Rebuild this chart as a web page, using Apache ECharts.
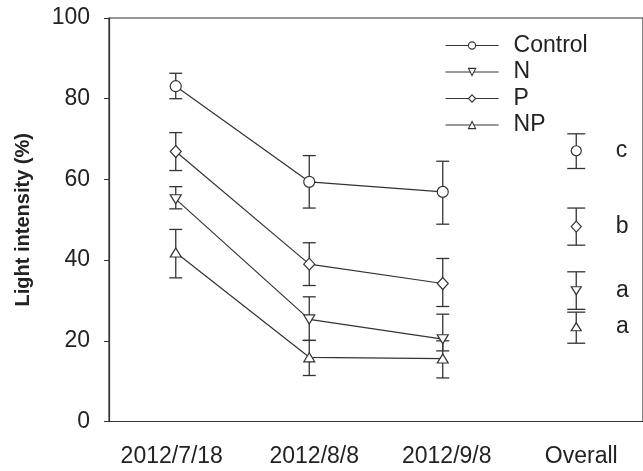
<!DOCTYPE html>
<html><head><meta charset="utf-8">
<script src="https://cdn.jsdelivr.net/npm/echarts@6/dist/echarts.min.js"></script>
<style>html,body{margin:0;padding:0;background:#fff}#c{width:643px;height:471px}</style>
</head><body><div id="c"></div>
<script>
const categories = ['2012/7/18', '2012/8/8', '2012/9/8', 'Overall'];
const yTicks = [0, 20, 40, 60, 80, 100];
const seriesNames = ['Control', 'N', 'P', 'NP'];
const control = [83.1, 59.4, 56.9];
const controlLow = [80.0, 52.9, 48.9];
const controlHigh = [86.3, 65.9, 64.5];
const nVal = [55.1, 25.3, 20.4];
const nLow = [52.7, 20.1, 17.5];
const nHigh = [58.2, 30.9, 26.6];
const pVal = [66.9, 39.0, 34.2];
const pLow = [62.2, 33.7, 28.5];
const pHigh = [71.6, 44.3, 40.4];
const npVal = [41.9, 15.9, 15.6];
const npLow = [35.6, 11.4, 10.8];
const npHigh = [47.6, 20.1, 20.0];
const overall = [67.1, 32.4, 48.3, 23.5];
const overallLow = [62.7, 27.8, 43.7, 19.4];
const overallHigh = [71.3, 37.1, 52.9, 27.1];
const letters = ['c', 'a', 'b', 'a'];

const INK = '#333';
const TXT = '#222';
const FONT = '"Liberation Sans", Arial, sans-serif';
const symbols = ['circle', 'triangle', 'diamond', 'triangle'];
const rotates = [0, 180, 0, 0];
const sizes = [[11, 11], [11, 9], [11, 12], [11, 9]];
const ovSizes = [[10, 10], [10, 8], [10, 11], [10, 8]];
const labelShift = [-4, 5, 4, 5];
const vals = [control, nVal, pVal, npVal];
const lows = [controlLow, nLow, pLow, npLow];
const highs = [controlHigh, nHigh, pHigh, npHigh];

function errSeries(data, capW) {
  return {
    type: 'custom', z: 1, silent: true,
    encode: { x: 0, y: [1, 2] },
    data: data,
    renderItem: function (params, api) {
      const x = api.value(0);
      const lo = api.coord([x, api.value(1)]);
      const hi = api.coord([x, api.value(2)]);
      const st = { stroke: INK, lineWidth: 1.3 };
      const h = capW / 2;
      return { type: 'group', children: [
        { type: 'line', shape: { x1: lo[0], y1: lo[1], x2: hi[0], y2: hi[1] }, style: st },
        { type: 'line', shape: { x1: lo[0] - h, y1: lo[1], x2: lo[0] + h, y2: lo[1] }, style: st },
        { type: 'line', shape: { x1: hi[0] - h, y1: hi[1], x2: hi[0] + h, y2: hi[1] }, style: st }
      ]};
    }
  };
}

const series = [];
seriesNames.forEach(function (name, i) {
  series.push({
    name: name, type: 'line', z: 3,
    data: vals[i],
    symbol: symbols[i], symbolRotate: rotates[i], symbolSize: sizes[i],
    showAllSymbol: true,
    lineStyle: { color: INK, width: 1.2 },
    itemStyle: { color: '#fff', borderColor: INK, borderWidth: 1.2 },
    emphasis: { disabled: true }
  });
  series.push(errSeries(vals[i].map(function (v, k) { return [k, lows[i][k], highs[i][k]]; }), 13));
});
series.push(errSeries(overall.map(function (v, k) { return [3, overallLow[k], overallHigh[k]]; }), 18));
series.push({
  type: 'scatter', z: 3,
  data: overall.map(function (v, k) {
    return { value: [3, v], symbol: symbols[k], symbolRotate: rotates[k], symbolSize: ovSizes[k],
      label: { formatter: letters[k] } };
  }),
  itemStyle: { color: '#fff', borderColor: INK, borderWidth: 1.2, opacity: 1 },
  label: { show: true, position: 'right', distance: 34, color: TXT, fontSize: 23, fontFamily: FONT },
  emphasis: { disabled: true }
});

const rich = {};
labelShift.forEach(function (s, i) {
  rich['s' + i] = {
    color: TXT, fontSize: 23, fontFamily: FONT,
    padding: s >= 0 ? [0, 0, 0, 2 * s] : [0, -2 * s, 0, 0]
  };
});

const chart = echarts.init(document.getElementById('c'), null, { renderer: 'canvas' });
chart.setOption({
  animation: false,
  backgroundColor: '#fff',
  grid: { left: 109, top: 18, bottom: 49.5, right: -2, show: true, borderColor: INK, borderWidth: 1.2 },
  legend: {
    data: seriesNames, orient: 'vertical', left: 440, top: 29,
    itemWidth: 53, itemHeight: 9, itemGap: 3.5,
    itemStyle: { color: '#fff', borderColor: INK, borderWidth: 1.1 },
    lineStyle: { color: INK, width: 1.1 },
    textStyle: { color: TXT, fontSize: 23, fontFamily: FONT, padding: [0, 0, 0, 10] },
    inactiveColor: '#333'
  },
  xAxis: {
    type: 'category', data: categories, boundaryGap: true,
    axisLine: { lineStyle: { color: INK, width: 1.2 } },
    axisTick: { alignWithLabel: true, length: 7, lineStyle: { color: INK } },
    axisLabel: {
      color: TXT, fontSize: 23, fontFamily: FONT, margin: 24, interval: 0,
      formatter: function (v, i) { return '{s' + i + '|' + v + '}'; },
      rich: rich
    }
  },
  yAxis: {
    type: 'value', min: yTicks[0], max: yTicks[yTicks.length - 1], interval: 20,
    name: 'Light intensity (%)', nameLocation: 'middle', nameGap: 76,
    nameTextStyle: { color: TXT, fontSize: 20, fontWeight: 'bold', fontFamily: FONT },
    axisLine: { show: true, lineStyle: { color: INK, width: 1.2 } },
    axisTick: { show: true, length: 5, lineStyle: { color: INK } },
    axisLabel: { color: TXT, fontSize: 23, fontFamily: FONT, margin: 19 },
    splitLine: { show: false }
  },
  series: series
});
</script></body></html>
